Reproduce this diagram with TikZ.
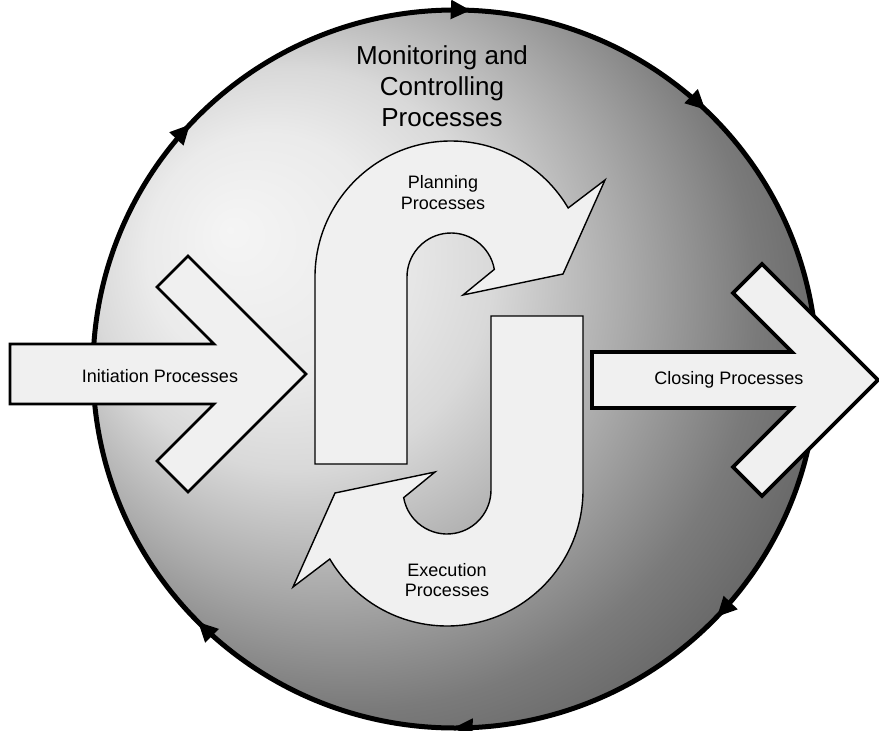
\documentclass[tikz,border=0pt]{standalone}
\usepackage{fontspec}
\setmainfont{Liberation Sans}
\usetikzlibrary{decorations.markings,arrows.meta}

% light spot at the upper left of the disc, darkening towards the right and the bottom
% (radii in bp, at the natural size of the drawing)
\pgfdeclareradialshading{discshade}{\pgfpoint{-225bp}{139bp}}{%
  color(0bp)=(black!4); color(120bp)=(black!8); color(200bp)=(black!15);
  color(300bp)=(black!33); color(400bp)=(black!52); color(500bp)=(black!64);
  color(600bp)=(black!72); color(720bp)=(black!74)}

\tikzset{
  ringtip/.tip={Triangle[length=20pt,width=18pt]},
  ring/.style={line width=5pt, postaction={decorate},
    decoration={markings,
      mark=at position 0.121 with {\arrow{ringtip}},
      mark=at position 0.251 with {\arrow{ringtip}},
      mark=at position 0.376 with {\arrow{ringtip}},
      mark=at position 0.619 with {\arrow{ringtip}},
      mark=at position 0.757 with {\arrow{ringtip}},
      mark=at position 0.872 with {\arrow{ringtip}}}},
  flowshape/.style={draw=black, line width=1.4pt, fill=black!6, line join=miter},
  phasearrow/.style={draw=black, line width=2.8pt, fill=black!6, line join=miter},
  closearrow/.style={draw=black, line width=3.8pt, fill=black!6, line join=miter},
  biglabel/.style={font=\fontsize{26}{31}\selectfont, align=center, inner sep=0pt},
  smalllabel/.style={font=\fontsize{18}{20.5}\selectfont, align=center, inner sep=0pt}
}

\begin{document}
\begin{tikzpicture}[x=1pt, y=1pt, yscale=-1]
\useasboundingbox (0,0) rectangle (879,731);

% monitoring and controlling disc with its clockwise cycle
\begin{scope}
  \clip (455,369) ellipse [x radius=362, y radius=359];
  \node[inner sep=0pt, outer sep=0pt] (glow) at (455,369) {\pgfuseshading{discshade}};
\end{scope}
\draw[ring] (455,369) ellipse [x radius=362, y radius=359];

% planning: arch turning over into the execution leg
\draw[flowshape] (315,464) -- (315,277)
  arc[start angle=180, end angle=329.5, radius=136]
  -- (605,180) -- (563,274) -- (463,295) -- (494.33,269.36)
  arc[start angle=350, end angle=180, radius=44]
  -- (407,464) -- cycle;

% execution: U turning back towards planning
\draw[flowshape] (583,316) -- (583,490)
  arc[start angle=0, end angle=149.5, radius=136]
  -- (293,587) -- (335,493) -- (435,472) -- (403.67,497.64)
  arc[start angle=170, end angle=0, radius=44]
  -- (491,316) -- cycle;

% initiation arrow entering from the left
\draw[phasearrow] (10,344) -- (214,344) -- (157,287) -- (188,256) -- (306,374)
  -- (188,492) -- (157,461) -- (214,404) -- (10,404) -- cycle;

% closing arrow leaving to the right
\draw[closearrow] (592,352) -- (792,352) -- (733,293) -- (762,264) -- (878,380)
  -- (762,496) -- (733,467) -- (792,408) -- (592,408) -- cycle;

% labels
\node[biglabel] (mc) at (442,86) {Monitoring and\\Controlling\\Processes};
\node[smalllabel] (plan) at (443,192.5) {Planning\\Processes};
\node[smalllabel] (exec) at (447,580) {Execution\\Processes};
\node[smalllabel, anchor=base] (init) at (160,382) {Initiation Processes};
\node[smalllabel, anchor=base] (close) at (729,384) {Closing Processes};
\end{tikzpicture}
\end{document}
